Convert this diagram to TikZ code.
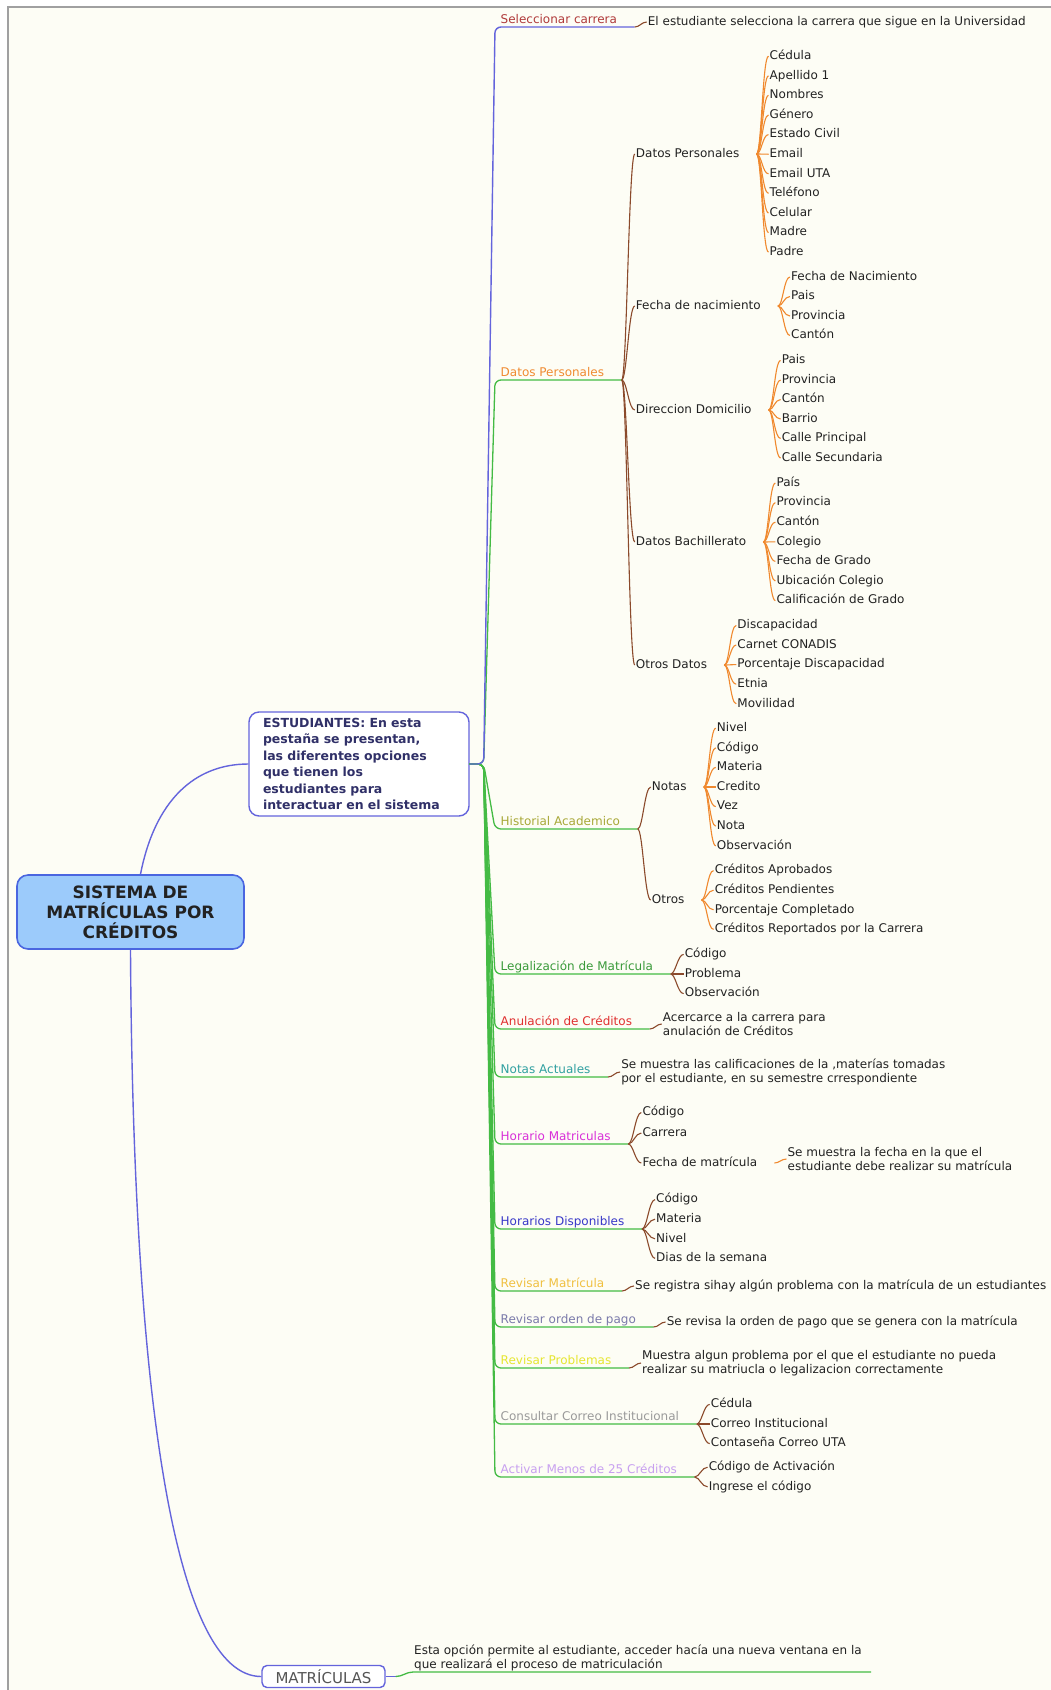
\documentclass[tikz,border=0pt]{standalone}
\usepackage{fontspec}
\setmainfont{DejaVu Sans}
\definecolor{cBg}{HTML}{FDFDF5}
\definecolor{cFrame}{HTML}{A0A0A0}
\definecolor{cBlue}{HTML}{6464DC}
\definecolor{cGreen}{HTML}{44BB44}
\definecolor{cBrown}{HTML}{8B4A2B}
\definecolor{cOrange}{HTML}{F0892E}
\definecolor{cRootF}{HTML}{9CCBFB}
\definecolor{cRootD}{HTML}{4A66E0}
\definecolor{cText}{HTML}{222222}
\definecolor{cNavy}{HTML}{303068}
\definecolor{cGray}{HTML}{555555}
\definecolor{cSel}{HTML}{B03A3A}
\definecolor{cOrangeT}{HTML}{F08A30}
\definecolor{cOlive}{HTML}{A8A838}
\definecolor{cLeg}{HTML}{3A9A3A}
\definecolor{cRed}{HTML}{E03030}
\definecolor{cTeal}{HTML}{30A0A0}
\definecolor{cMag}{HTML}{D830D8}
\definecolor{cBlueT}{HTML}{3838C8}
\definecolor{cGold}{HTML}{F0C040}
\definecolor{cSlate}{HTML}{7A7AAA}
\definecolor{cYel}{HTML}{E6E630}
\definecolor{cGrayT}{HTML}{9A9A9A}
\definecolor{cLav}{HTML}{C8A0F0}
\newcommand\lone[5]{%
  \node[lvlone, text=#2] (#1) at (500,#3) {#4};
  \coordinate (#1s) at ([xshift=-5pt,yshift=-4pt]#1.base west);
  \coordinate (#1e) at ([xshift=17pt,yshift=-4pt]#1.base east);
  \draw[#5, rounded corners=6pt] (E.east) -- (Ek) -- (#1s) -- (#1e);}
\newcommand\ldesc[3]{%
  \node[desc] (#2) at ([xshift=12pt,yshift=5pt]#1) {#3};
  \draw[brownl] (#1) to[brc] (#2.west);}
\newcommand\grp[5]{%
  \coordinate (#3X) at ([xshift=#2]#1);
  \foreach \t/\y [count=\i] in {#5} {%
    \node[txt] (#3\i) at (#3X |- 0,\y) {\t};
    \draw[#4] (#1) to[brc] (#3\i.west);}}
\begin{document}
\begin{tikzpicture}[x=1pt,y=-1pt,
  txt/.style={font=\fontsize{12}{14}\selectfont, text=cText, inner sep=1pt, anchor=west, text height=9pt, text depth=2.5pt},
  desc/.style={font=\fontsize{12}{14}\selectfont, text=cText, inner sep=1pt, anchor=west, align=left},
  lvlone/.style={font=\fontsize{12}{14}\selectfont, inner sep=0.5pt, anchor=base west},
  bluel/.style={draw=cBlue, line width=1.4pt},
  greenl/.style={draw=cGreen, line width=1.3pt},
  brownl/.style={draw=cBrown, line width=1.1pt},
  orangel/.style={draw=cOrange, line width=1.1pt},
  brc/.style={out=0,in=180,out max distance=5pt,in max distance=6pt},
]
\useasboundingbox (0,0) rectangle (1051,1690);
\fill[white] (0,0) rectangle (1051,1690);
\fill[cBg] (8,7) rectangle (1051,1690);
\draw[cFrame, line width=1.5pt] (8,1690) -- (8,7) -- (1051,7);

% main nodes
\node[draw=cRootD, fill=cRootF, line width=1.6pt, rounded corners=11pt, minimum width=227pt, minimum height=74pt, align=center, font=\bfseries\fontsize{17}{20}\selectfont, text=cText] (R) at (130.5,912) {SISTEMA DE\\MATRÍCULAS POR\\CRÉDITOS};
\node[draw=cBlue, fill=white, line width=1.4pt, rounded corners=10pt, text width=192pt, inner xsep=14pt, minimum height=104pt, align=left, font=\bfseries\fontsize{12.5}{16.4}\selectfont, text=cNavy] (E) at (359,764) {ESTUDIANTES: En esta\\pestaña se presentan,\\las diferentes opciones\\que tienen los\\estudiantes para\\interactuar en el sistema};
\node[draw=cBlue, fill=white, line width=1.4pt, rounded corners=5pt, minimum width=123pt, minimum height=22pt, font=\fontsize{15}{17}\selectfont, text=cGray] (M) at (323.5,1676.5) {MATRÍCULAS};

\draw[bluel] ([xshift=10pt]R.north) .. controls (155,800) and (195,764) .. (E.west);
\draw[bluel] (R.south) .. controls (133,1400) and (175,1676.5) .. (M.west);

% MATRICULAS description
\node[desc, anchor=south west] (Md) at (413,1672) {Esta opción permite al estudiante, acceder hacía una nueva ventana en la\\que realizará el proceso de matriculación};
\coordinate (Mk) at ([xshift=10pt]M.east);
\coordinate (Mend) at (871,1672);
\draw[bluel] (M.east) -- (Mk);
\draw[greenl] (Mk) to[out=0,in=180,out max distance=8pt,in max distance=8pt] (Md.south west) -- (Mend);

% level one branches
\coordinate (Ek) at ([xshift=14pt]E.east);
\lone{dpl}{cOrangeT}{376}{Datos Personales}{greenl}
\lone{his}{cOlive}{825}{Historial Academico}{greenl}
\lone{leg}{cLeg}{970}{Legalización de Matrícula}{greenl}
\lone{anu}{cRed}{1025}{Anulación de Créditos}{greenl}
\lone{nac}{cTeal}{1073}{Notas Actuales}{greenl}
\lone{hma}{cMag}{1140}{Horario Matriculas}{greenl}
\lone{hdi}{cBlueT}{1225}{Horarios Disponibles}{greenl}
\lone{rma}{cGold}{1287}{Revisar Matrícula}{greenl}
\lone{rop}{cSlate}{1323}{Revisar orden de pago}{greenl}
\lone{rpr}{cYel}{1364}{Revisar Problemas}{greenl}
\lone{ccc}{cGrayT}{1420}{Consultar Correo Institucional}{greenl}
\lone{act}{cLav}{1473}{Activar Menos de 25 Créditos}{greenl}
\lone{sel}{cSel}{23}{Seleccionar carrera}{bluel}

% descriptions
\ldesc{sele}{seld}{El estudiante selecciona la carrera que sigue en la Universidad}
\ldesc{anue}{anud}{Acercarce a la carrera para\\anulación de Créditos}
\ldesc{nace}{nacd}{Se muestra las calificaciones de la ,materías tomadas\\por el estudiante, en su semestre crrespondiente}
\ldesc{rmae}{rmad}{Se registra sihay algún problema con la matrícula de un estudiantes}
\ldesc{rope}{ropd}{Se revisa la orden de pago que se genera con la matrícula}
\ldesc{rpre}{rprd}{Muestra algun problema por el que el estudiante no pueda\\realizar su matriucla o legalizacion correctamente}

% Datos Personales
\grp{dple}{13pt}{dp}{brownl}{Datos Personales/154,Fecha de nacimiento/306,Direccion Domicilio/410,Datos Bachillerato/542,Otros Datos/665}
\coordinate (dp1P) at ([xshift=16pt]dp1.east);
\grp{dp1P}{12pt}{dpa}{orangel}{Cédula/56.2,Apellido 1/75.8,Nombres/95.4,Género/115,Estado Civil/134.6,Email/154.2,Email UTA/173.8,Teléfono/193.4,Celular/213,Madre/232.6,Padre/252.2}
\coordinate (dp2P) at ([xshift=16pt]dp2.east);
\grp{dp2P}{12pt}{dpb}{orangel}{Fecha de Nacimiento/277,Pais/296.5,Provincia/316,Cantón/335.5}
\coordinate (dp3P) at ([xshift=16pt]dp3.east);
\grp{dp3P}{12pt}{dpc}{orangel}{Pais/360.5,Provincia/380,Cantón/399.5,Barrio/419,Calle Principal/438.5,Calle Secundaria/458}
\coordinate (dp4P) at ([xshift=16pt]dp4.east);
\grp{dp4P}{12pt}{dpd}{orangel}{País/483,Provincia/502.6,Cantón/522.2,Colegio/541.8,Fecha de Grado/561.4,Ubicación Colegio/581,Calificación de Grado/600.6}
\coordinate (dp5P) at ([xshift=16pt]dp5.east);
\grp{dp5P}{12pt}{dpe}{orangel}{Discapacidad/625.4,Carnet CONADIS/645,Porcentaje Discapacidad/664.6,Etnia/684.2,Movilidad/703.8}

% Historial
\grp{hise}{13pt}{hi}{brownl}{Notas/787,Otros/900}
\coordinate (hi1P) at ([xshift=16pt]hi1.east);
\grp{hi1P}{12pt}{hia}{orangel}{Nivel/728.2,Código/747.8,Materia/767.4,Credito/787,Vez/806.6,Nota/826.2,Observación/845.8}
\coordinate (hi2P) at ([xshift=16pt]hi2.east);
\grp{hi2P}{12pt}{hib}{orangel}{Créditos Aprobados/870.6,Créditos Pendientes/890.2,Porcentaje Completado/909.8,Créditos Reportados por la Carrera/929.4}

% other groups
\grp{lege}{13pt}{lg}{brownl}{Código/954.4,Problema/974,Observación/993.6}
\grp{hmae}{13pt}{hm}{brownl}{Código/1112.5,Carrera/1133,Fecha de matrícula/1163}
\coordinate (hm3P) at ([xshift=16pt]hm3.east);
\node[desc] (fmd) at ([xshift=28pt,yshift=4pt]hm3.east) {Se muestra la fecha en la que el\\estudiante debe realizar su matrícula};
\draw[orangel] (hm3P) to[brc] (fmd.west);
\grp{hdie}{13pt}{hd}{brownl}{Código/1199.6,Materia/1219.2,Nivel/1238.8,Dias de la semana/1258.4}
\grp{ccce}{13pt}{cc}{brownl}{Cédula/1404.4,Correo Institucional/1424,Contaseña Correo UTA/1443.6}
\grp{acte}{13pt}{ac}{brownl}{Código de Activación/1467.2,Ingrese el código/1486.8}
\end{tikzpicture}
\end{document}
